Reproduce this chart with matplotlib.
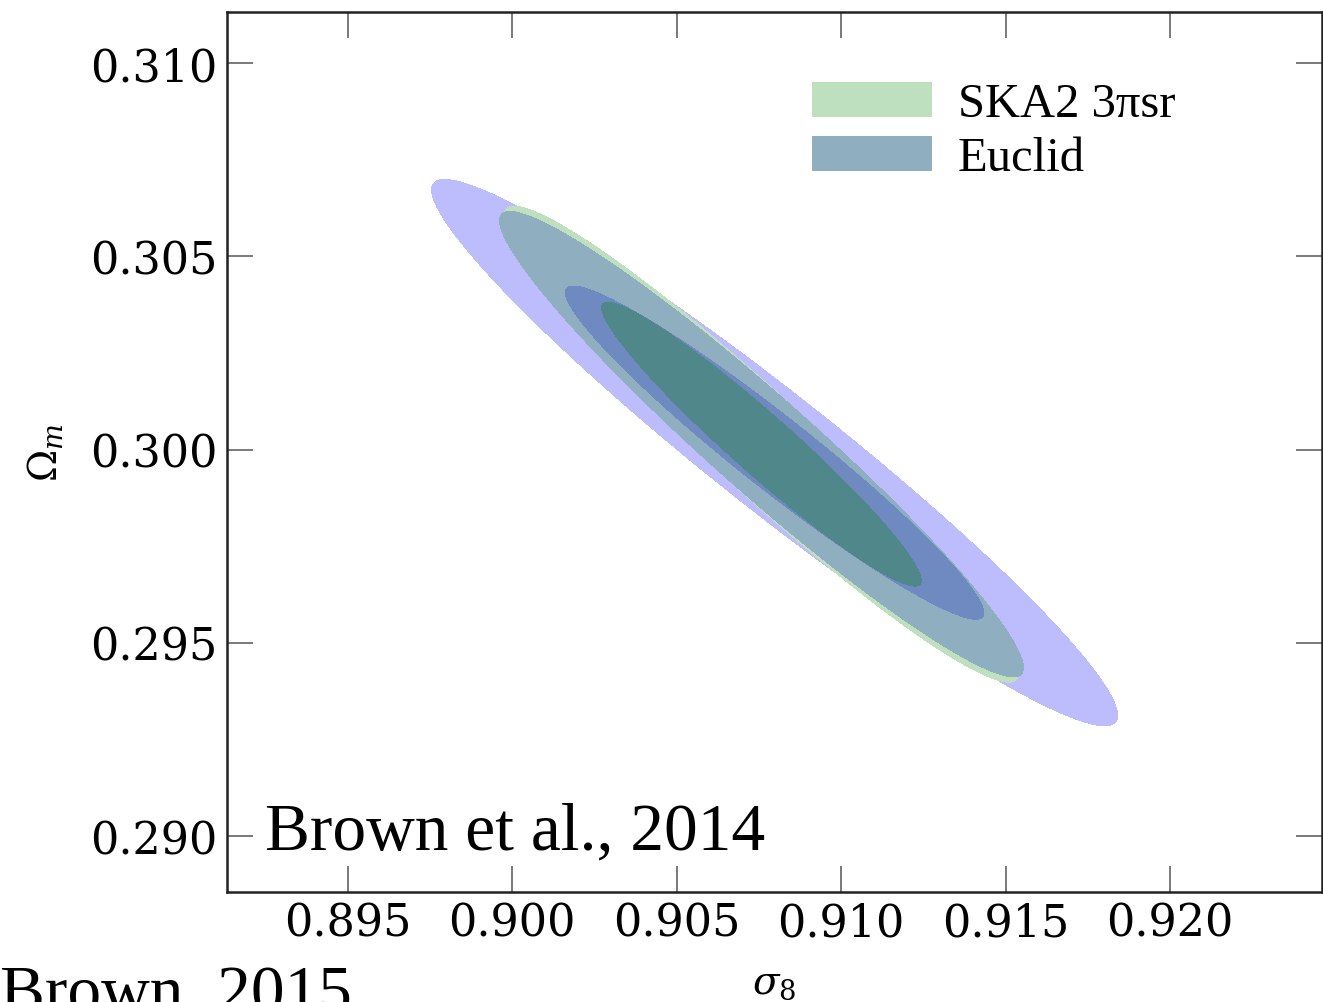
import numpy as np
import matplotlib
matplotlib.use('Agg')
import matplotlib.pyplot as plt
from matplotlib.patches import Patch

# Fisher forecast ellipses in the (sigma_8, Omega_m) plane
# order: wide forecast (no legend entry), SKA2, Euclid
centre_s8 = [0.90798, 0.90758, 0.90758]
centre_om = [0.29992, 0.30014, 0.30014]
err_s8 = [0.004195, 0.003146, 0.003204]
err_om = [0.002842, 0.002476, 0.002421]
corr = [-0.962, -0.9615, -0.961]

legend_labels = ['SKA2 3πsr', 'Euclid']

# delta chi^2 for 1 and 2 sigma with two parameters
dchi2_1sig = 2.30
dchi2_2sig = 6.18

xticks = [0.895, 0.900, 0.905, 0.910, 0.915, 0.920]
yticks = [0.290, 0.295, 0.300, 0.305, 0.310]

c_wide_out = '#BDBDFD'
c_wide_in = '#6E8AC0'
c_ska = '#BFE0BF'
c_euclid_out = '#8FAEC0'
c_euclid_in = '#50878A'

plt.rcParams['mathtext.fontset'] = 'dejavuserif'
plt.rcParams['font.family'] = 'DejaVu Serif'

fig = plt.figure(figsize=(13.23, 10.03), dpi=100)
ax = fig.add_axes([0.1718, 0.1097, 0.8272, 0.8771])

xlim = (0.891339, 0.924612)
ylim = (0.288557, 0.311311)

s8 = np.linspace(xlim[0], xlim[1], 700)
om = np.linspace(ylim[0], ylim[1], 700)
S, O = np.meshgrid(s8, om)


def chi2(i):
    dx = (S - centre_s8[i]) / err_s8[i]
    dy = (O - centre_om[i]) / err_om[i]
    r = corr[i]
    return (dx**2 - 2 * r * dx * dy + dy**2) / (1 - r**2)


chi_wide, chi_ska, chi_euc = chi2(0), chi2(1), chi2(2)

# outer (2 sigma) regions first, inner (1 sigma) on top
ax.contourf(S, O, chi_wide, levels=[0, dchi2_2sig], colors=[c_wide_out])
ax.contourf(S, O, chi_ska, levels=[0, dchi2_2sig], colors=[c_ska])
ax.contourf(S, O, chi_euc, levels=[0, dchi2_2sig], colors=[c_euclid_out])
ax.contourf(S, O, chi_wide, levels=[0, dchi2_1sig], colors=[c_wide_in])
ax.contourf(S, O, chi_euc, levels=[0, dchi2_1sig], colors=[c_euclid_in])

ax.set_xlim(xlim)
ax.set_ylim(ylim)
ax.set_xticks(xticks)
ax.set_yticks(yticks)
ax.set_xticklabels(['%.3f' % t for t in xticks])
ax.set_yticklabels(['%.3f' % t for t in yticks])

ax.tick_params(direction='in', length=18.7, width=1.1, color='#555555',
               labelsize=32, top=True, right=True, pad=7)
for sp in ax.spines.values():
    sp.set_linewidth(1.8)
    sp.set_color('#222222')

ax.set_xlabel(r'$\sigma_8$', fontsize=28, labelpad=14)
ax.set_ylabel(r'$\Omega_m$', fontsize=28, labelpad=18)

handles = [Patch(facecolor=c_ska, edgecolor='none'),
           Patch(facecolor=c_euclid_out, edgecolor='none')]
ax.legend(handles, legend_labels, loc='upper left',
          bbox_to_anchor=(812 / 1323, 1 - 83 / 1003),
          bbox_transform=fig.transFigure, frameon=False,
          prop={'family': 'Liberation Serif', 'size': 35},
          handlelength=2.47, handleheight=0.72, handletextpad=0.53,
          labelspacing=0.2, borderpad=0, borderaxespad=0)

ax.text(265 / 1323, 1 - 850 / 1003, 'Brown et al., 2014', transform=fig.transFigure,
        fontsize=48.5, family='Liberation Serif', va='baseline', ha='left')
fig.text(0.0, 1 - 1012 / 1003, 'Brown, 2015', fontsize=48.5,
         family='Liberation Serif', va='baseline', ha='left')

fig.savefig('out.png', dpi=100)
